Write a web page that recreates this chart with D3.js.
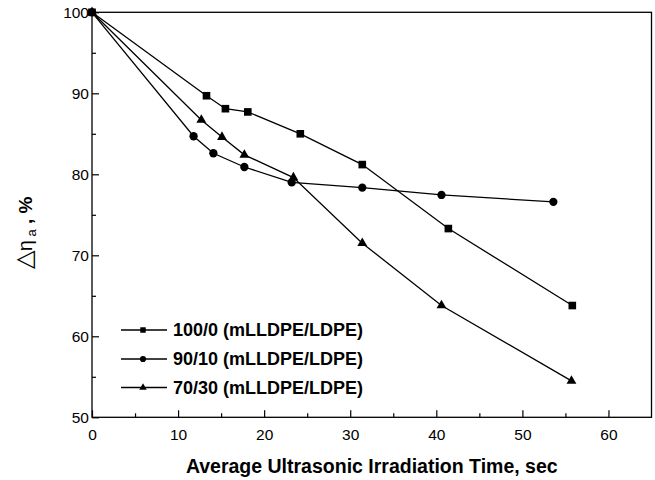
<!DOCTYPE html>
<html><head><meta charset="utf-8">
<script src="https://cdn.jsdelivr.net/npm/d3@7"></script>
<style>body{margin:0;background:#fff}svg{display:block}</style>
</head><body>
<svg id="c" width="655" height="480"></svg>
<script>
const xTicks = [0,10,20,30,40,50,60];
const yTicks = [50,60,70,80,90,100];
const seriesNames = ["100/0 (mLLDPE/LDPE)","90/10 (mLLDPE/LDPE)","70/30 (mLLDPE/LDPE)"];
const sq = [[0,100],[13.3,89.7],[15.5,88.1],[18.1,87.7],[24.2,85.0],[31.4,81.2],[41.4,73.3],[55.8,63.8]];
const ci = [[0,100],[11.8,84.7],[14.1,82.6],[17.7,80.9],[23.2,79.0],[31.4,78.35],[40.6,77.45],[53.6,76.6]];
const tr = [[0,100],[12.7,86.7],[15.1,84.6],[17.7,82.4],[23.4,79.6],[31.4,71.5],[40.6,63.8],[55.7,54.5]];
const series = [sq, ci, tr];
const symbols = [d3.symbolSquare, d3.symbolCircle, d3.symbolTriangle];

const svg = d3.select("#c");
const L=92, R=651.5, T=12.3, B=417.3;
const x = d3.scaleLinear().domain([0,65]).range([L,R]);
const y = d3.scaleLinear().domain([50,100]).range([B,T]);
const font = "Arial, 'Liberation Sans', Helvetica, sans-serif";

// frame
svg.append("rect").attr("x",L).attr("y",T).attr("width",R-L).attr("height",B-T)
  .attr("fill","none").attr("stroke","#000").attr("stroke-width",1.3);

const gx = svg.append("g").attr("transform",`translate(0,${B})`)
  .call(d3.axisBottom(x).tickValues(xTicks).tickSize(-7).tickPadding(12).tickFormat(d3.format("d")));
const gxm = svg.append("g").attr("transform",`translate(0,${B})`)
  .call(d3.axisBottom(x).tickValues([5,15,25,35,45,55]).tickSize(-4).tickFormat(""));
const gy = svg.append("g").attr("transform",`translate(${L},0)`)
  .call(d3.axisLeft(y).tickValues(yTicks).tickSize(-7).tickPadding(3).tickFormat(d3.format("d")));
const gym = svg.append("g").attr("transform",`translate(${L},0)`)
  .call(d3.axisLeft(y).tickValues([55,65,75,85,95]).tickSize(-4).tickFormat(""));
[gx,gxm,gy,gym].forEach(g=>{
  g.select(".domain").remove();
  g.selectAll(".tick line").attr("stroke","#000").attr("stroke-width",1.2);
  g.selectAll("text").attr("font-family",font).attr("font-size",15.5).attr("fill","#000");
});
gy.selectAll("text").attr("dy","0.35em");

const line = d3.line().x(d=>x(d[0])).y(d=>y(d[1]));
const sizes = [58, 54, 42];
series.forEach((s,i)=>{
  svg.append("path").datum(s).attr("d",line).attr("fill","none")
    .attr("stroke","#000").attr("stroke-width",1.3);
  svg.append("g").selectAll("path").data(s).join("path")
    .attr("transform",d=>`translate(${x(d[0])},${y(d[1])})`)
    .attr("d",d3.symbol().type(symbols[i]).size(sizes[i])).attr("fill","#000");
});

// legend
const ly = [330, 359, 387.5];
const lsizes = [30, 30, 24];
seriesNames.forEach((n,i)=>{
  svg.append("line").attr("x1",121).attr("x2",167).attr("y1",ly[i]).attr("y2",ly[i])
    .attr("stroke","#000").attr("stroke-width",1.3);
  svg.append("path").attr("transform",`translate(143,${ly[i]})`)
    .attr("d",d3.symbol().type(symbols[i]).size(lsizes[i])).attr("fill","#000");
  svg.append("text").attr("x",173).attr("y",ly[i]).attr("dy","0.36em")
    .attr("font-family",font).attr("font-size",18).attr("font-weight","bold").text(n);
});

svg.append("text").attr("x",(L+R)/2).attr("y",473).attr("text-anchor","middle")
  .attr("font-family",font).attr("font-size",19.5).attr("font-weight","bold")
  .text("Average Ultrasonic Irradiation Time, sec");

const yl = svg.append("text").attr("transform","translate(32,233) rotate(-90)")
  .attr("text-anchor","middle").attr("font-family",font);
yl.append("tspan").attr("font-size",24).text("\u25B3");
yl.append("tspan").attr("font-size",20).text("\u03B7");
yl.append("tspan").attr("font-size",13).attr("dy",4).text(" a");
yl.append("tspan").attr("font-size",19).attr("font-weight","bold").attr("dy",-4).text(" , %");
</script>
</body></html>
